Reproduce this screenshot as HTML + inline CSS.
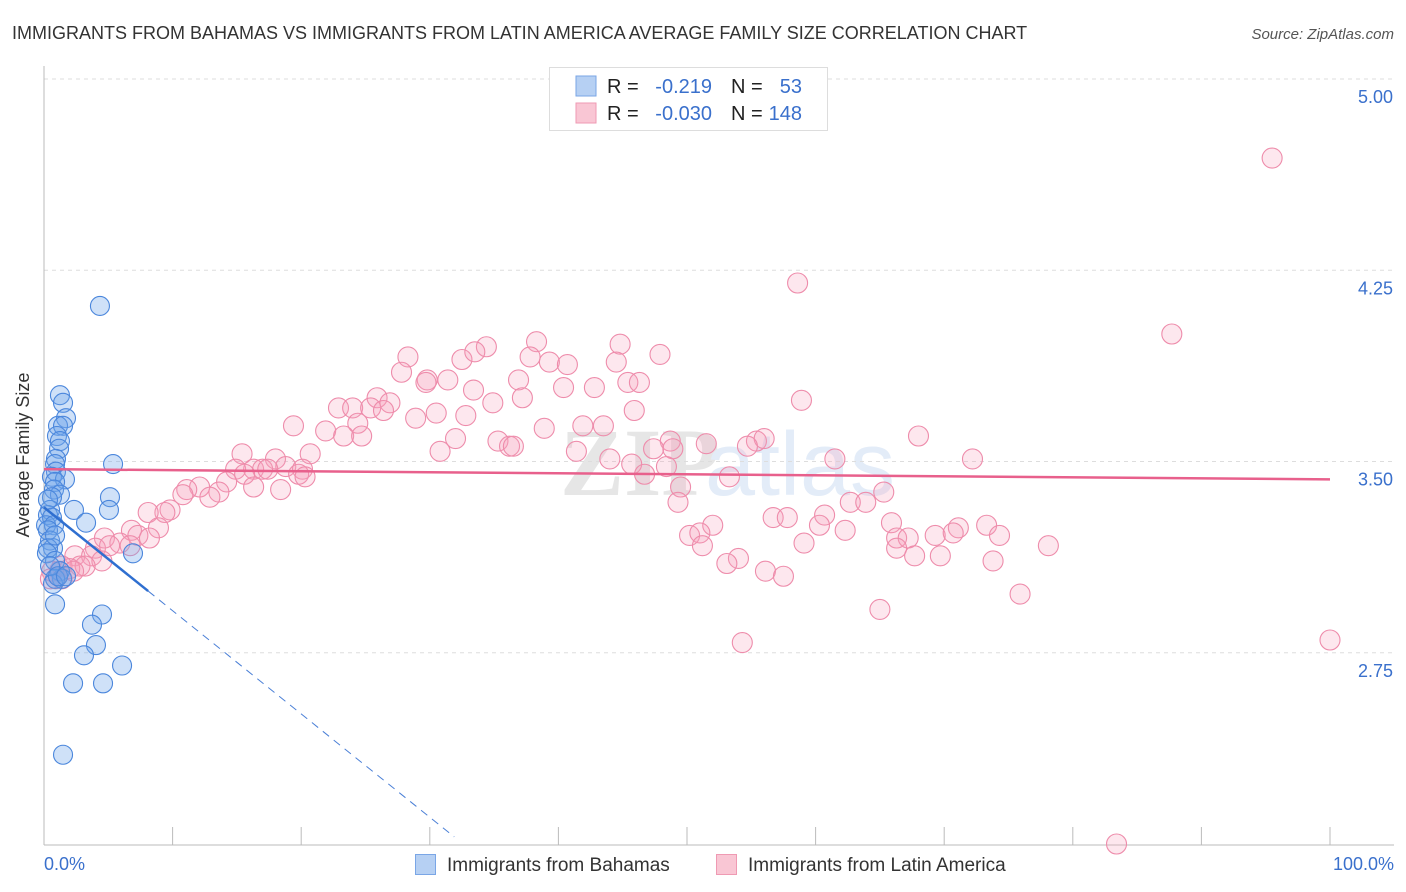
<!DOCTYPE html>
<html><head><meta charset="utf-8">
<style>
body{margin:0;background:#fff;font-family:"Liberation Sans",sans-serif;}
#wrap{position:relative;width:1406px;height:892px;overflow:hidden;}
</style></head><body>
<div id="wrap">
<svg id="svg" width="1406" height="892" xmlns="http://www.w3.org/2000/svg">
<text x="12" y="39" font-size="18" fill="#333">IMMIGRANTS FROM BAHAMAS VS IMMIGRANTS FROM LATIN AMERICA AVERAGE FAMILY SIZE CORRELATION CHART</text>
<text x="1394" y="39" font-size="15" fill="#555" font-style="italic" text-anchor="end">Source: ZipAtlas.com</text>
<text x="640" y="495" font-size="96" fill="#e6e6e6" font-family="Liberation Serif" font-weight="bold" text-anchor="middle">ZIP</text>
<text x="800" y="495" font-size="90" fill="#e3ecf8" text-anchor="middle">atlas</text>
<g id="grid"></g>
<g id="axes"></g>
<g id="pts"></g>
<g id="trend"></g>
<text x="29" y="455" font-size="18" fill="#333" text-anchor="middle" transform="rotate(-90 29 455)">Average Family Size</text>
<text x="44" y="870" font-size="18" fill="#3a70cc">0.0%</text>
<text x="1394" y="870" font-size="18" fill="#3a70cc" text-anchor="end">100.0%</text>
<g>
<rect x="549.5" y="67.5" width="278" height="63" fill="#fff" stroke="#ddd"/>
<rect x="576" y="76" width="20" height="20" fill="#b6d0f3" stroke="#7aa6e6"/>
<rect x="576" y="103" width="20" height="20" fill="#f9c6d4" stroke="#ef9ab3"/>
<text x="607" y="93" font-size="20" fill="#222">R =</text>
<text x="712" y="93" font-size="20" fill="#3a70cc" text-anchor="end">-0.219</text>
<text x="731" y="93" font-size="20" fill="#222">N =</text>
<text x="802" y="93" font-size="20" fill="#3a70cc" text-anchor="end">53</text>
<text x="607" y="120" font-size="20" fill="#222">R =</text>
<text x="712" y="120" font-size="20" fill="#3a70cc" text-anchor="end">-0.030</text>
<text x="731" y="120" font-size="20" fill="#222">N =</text>
<text x="802" y="120" font-size="20" fill="#3a70cc" text-anchor="end">148</text>
</g>
<g>
<rect x="415.5" y="854.5" width="20" height="20" fill="#b6d0f3" stroke="#7aa6e6"/>
<text x="447" y="871" font-size="19" fill="#333">Immigrants from Bahamas</text>
<rect x="716.5" y="854.5" width="20" height="20" fill="#f9c6d4" stroke="#ef9ab3"/>
<text x="748" y="871" font-size="19" fill="#333">Immigrants from Latin America</text>
</g>
</svg>
</div>
<script>
const yTicks=[5.00,4.25,3.50,2.75];
const yTickLabels=["5.00","4.25","3.50","2.75"];
const xTicks=[0,10,20,30,40,50,60,70,80,90,100];
const blueX=[4.35,1.24,1.48,1.71,1.09,1.48,1.01,1.24,1.17,0.93,0.86,5.37,0.93,0.62,1.63,0.86,0.78,5.13,1.24,0.62,5.05,2.33,0.47,0.31,0.62,3.27,0.16,0.78,0.31,0.47,0.70,0.31,0.23,6.92,0.86,1.24,1.40,0.86,0.70,0.86,4.51,3.73,4.04,3.11,6.07,2.26,4.59,1.48,0.47,1.09,1.71,0.31,0.86];
const blueY=[4.11,3.76,3.73,3.67,3.64,3.64,3.60,3.58,3.55,3.51,3.49,3.49,3.46,3.44,3.43,3.42,3.39,3.36,3.37,3.36,3.31,3.31,3.31,3.29,3.28,3.26,3.25,3.25,3.23,3.19,3.16,3.16,3.14,3.14,3.11,3.07,3.04,3.04,3.02,2.94,2.90,2.86,2.78,2.74,2.70,2.63,2.63,2.35,3.09,3.05,3.05,3.35,3.21];
const pinkX=[95.5,58.6,87.7,83.4,100.0,54.3,65.0,75.9,28.3,34.4,38.3,44.8,47.9,37.8,39.3,40.7,32.5,33.5,44.5,27.8,29.8,31.4,36.9,29.7,42.8,45.4,46.3,40.4,33.4,37.2,34.9,25.9,26.9,22.9,24.0,25.4,26.4,30.5,32.8,28.9,24.4,45.9,58.9,43.5,41.9,19.4,38.9,21.9,23.3,24.7,32.0,35.3,36.2,30.8,36.5,15.4,41.4,44.0,68.0,55.4,56.0,54.7,51.5,61.5,72.2,48.7,47.4,48.9,45.7,48.4,53.3,46.7,18.0,20.7,16.3,14.9,17.0,18.8,20.1,17.4,19.8,20.3,15.6,14.2,12.1,11.1,13.6,12.9,16.3,18.4,10.8,9.8,9.4,8.1,49.5,49.3,65.3,62.7,63.9,60.7,56.7,57.8,65.9,73.3,71.1,74.3,52.0,60.3,62.3,66.3,67.2,69.3,70.7,50.2,51.0,51.2,59.1,66.3,78.1,67.7,69.7,73.8,54.0,53.1,56.1,57.5,6.8,7.3,8.9,4.7,5.9,8.2,4.0,5.1,6.7,2.4,3.7,4.5,2.8,1.4,2.0,0.6,1.2,3.2,0.9,1.4,2.3,0.5];
const pinkY=[4.69,4.20,4.00,2.00,2.80,2.79,2.92,2.98,3.91,3.95,3.97,3.96,3.92,3.91,3.89,3.88,3.90,3.93,3.89,3.85,3.82,3.82,3.82,3.81,3.79,3.81,3.81,3.79,3.78,3.75,3.73,3.75,3.73,3.71,3.71,3.71,3.70,3.69,3.68,3.67,3.65,3.70,3.74,3.64,3.64,3.64,3.63,3.62,3.60,3.60,3.59,3.58,3.56,3.54,3.56,3.53,3.54,3.51,3.60,3.58,3.59,3.56,3.57,3.51,3.51,3.58,3.55,3.55,3.49,3.48,3.44,3.45,3.51,3.53,3.47,3.47,3.47,3.48,3.47,3.47,3.45,3.44,3.45,3.42,3.40,3.39,3.38,3.36,3.40,3.39,3.37,3.31,3.30,3.30,3.40,3.34,3.38,3.34,3.34,3.29,3.28,3.28,3.26,3.25,3.24,3.21,3.25,3.25,3.23,3.20,3.20,3.21,3.22,3.21,3.22,3.17,3.18,3.16,3.17,3.13,3.13,3.11,3.12,3.10,3.07,3.05,3.23,3.21,3.24,3.20,3.18,3.20,3.16,3.17,3.17,3.13,3.13,3.11,3.09,3.09,3.08,3.07,3.07,3.09,3.04,3.04,3.07,3.04];
const blueTrend=[3.32,-0.0405];
const pinkTrend=[3.47,-0.0004];
const blueSolidEnd=8.1;
const blueDashEnd=31.9;

const X0=44,X1=1330,YT=79,PX=255;
const sx=p=>X0+(X1-X0)*p/100;
const sy=v=>YT+(5-v)*PX;
const NS="http://www.w3.org/2000/svg";
function mk(tag,attrs,parent){const e=document.createElementNS(NS,tag);for(const k in attrs)e.setAttribute(k,attrs[k]);parent.appendChild(e);return e;}
const grid=document.getElementById('grid'),axes=document.getElementById('axes'),pts=document.getElementById('pts'),trend=document.getElementById('trend');
yTicks.forEach((t,i)=>{
  const l=mk('line',{x1:44,x2:1394,y1:sy(t),y2:sy(t),stroke:'#ddd','stroke-dasharray':'4,4'},grid);
  
  
  const tx=mk('text',{x:1393,y:sy(t)+24,'font-size':18,fill:'#3a70cc','text-anchor':'end'},grid);
  tx.textContent=yTickLabels[i];
  
  
});
const ya=mk('line',{x1:44,x2:44,y1:66,y2:845,stroke:'#bbb'},axes);


const xa=mk('line',{x1:44,x2:1394,y1:845,y2:845,stroke:'#bbb'},axes);


xTicks.forEach(t=>{
  const l=mk('line',{x1:sx(t),x2:sx(t),y1:827,y2:845,stroke:'#bbb'},axes);
  
  
});
pinkX.forEach((p,i)=>{
  const c=mk('circle',{cx:sx(p),cy:sy(pinkY[i]),r:10,fill:'rgba(246,160,186,0.25)',stroke:'#ee8cab','stroke-width':1.1},pts);
  
  
});
blueX.forEach((p,i)=>{
  const c=mk('circle',{cx:sx(p),cy:sy(blueY[i]),r:9.5,fill:'rgba(110,165,235,0.33)',stroke:'#4a86dc','stroke-width':1.1},pts);
  
  
});
const bv=p=>blueTrend[0]+blueTrend[1]*p;
const pv=p=>pinkTrend[0]+pinkTrend[1]*p;
const pl=mk('line',{x1:sx(0),y1:sy(pv(0)),x2:sx(100),y2:sy(pv(100)),stroke:'#e8608c','stroke-width':2.5},trend);


const bs=mk('line',{x1:sx(0),y1:sy(bv(0)),x2:sx(blueSolidEnd),y2:sy(bv(blueSolidEnd)),stroke:'#2f6fd0','stroke-width':2.5},trend);


const bd=mk('line',{x1:sx(blueSolidEnd),y1:sy(bv(blueSolidEnd)),x2:sx(blueDashEnd),y2:sy(bv(blueDashEnd)),stroke:'#4a7fd6','stroke-width':1,'stroke-dasharray':'8,6'},trend);


</script>
</body></html>
